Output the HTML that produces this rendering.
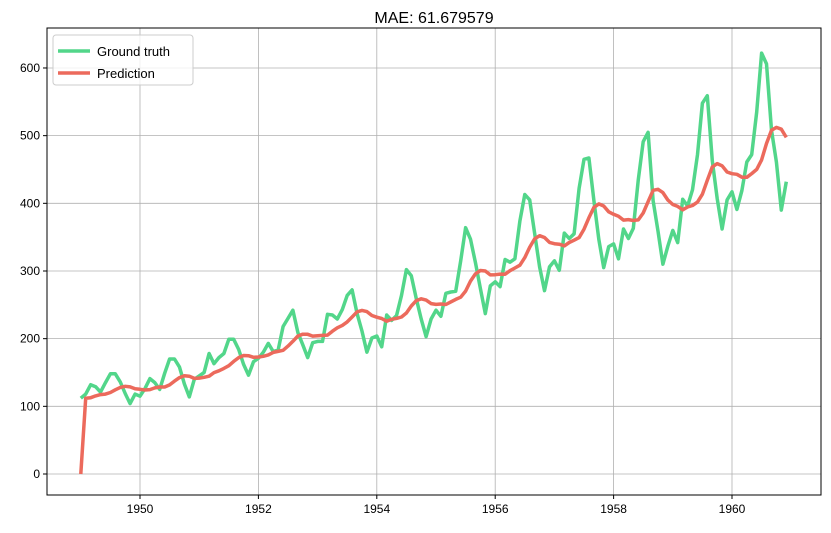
<!DOCTYPE html>
<html><head><meta charset="utf-8"><style>
body{margin:0;background:#fff;font-family:"Liberation Sans",sans-serif}
svg text{font-family:"Liberation Sans",sans-serif}
</style></head><body>
<svg id="s" width="831" height="528" xmlns="http://www.w3.org/2000/svg">
<rect width="831" height="528" fill="#fff"/>
<g id="grid"></g>
<polyline id="gt" fill="none" stroke="#52d68a" stroke-width="3.5" stroke-linejoin="round"/>
<polyline id="pr" fill="none" stroke="#ec6a5c" stroke-width="3.5" stroke-linejoin="round"/>
<rect x="47" y="28" width="774" height="467" fill="none" stroke="#000" stroke-width="1"/>
<g id="ticks" font-size="12"></g>
<text x="434" y="23" font-size="16" text-anchor="middle">MAE: 61.679579</text>
<rect x="53" y="35" width="140" height="50" rx="3" fill="#fff" fill-opacity="0.8" stroke="#ccc"/>
<line x1="58" y1="51" x2="90" y2="51" stroke="#52d68a" stroke-width="3.5"/>
<text x="97" y="56" font-size="13">Ground truth</text>
<line x1="58" y1="73" x2="90" y2="73" stroke="#ec6a5c" stroke-width="3.5"/>
<text x="97" y="78" font-size="13">Prediction</text>
</svg>
<script>
var d=[112,118,132,129,121,135,148,148,136,119,104,118,115,126,141,135,125,149,170,170,158,133,114,140,145,150,178,163,172,178,199,199,184,162,146,166,171,180,193,181,183,218,230,242,209,191,172,194,196,196,236,235,229,243,264,272,237,211,180,201,204,188,235,227,234,264,302,293,259,229,203,229,242,233,267,269,270,315,364,347,312,274,237,278,284,277,317,313,318,374,413,405,355,306,271,306,315,301,356,348,355,422,465,467,404,347,305,336,340,318,362,348,363,435,491,505,404,359,310,337,360,342,406,396,420,472,548,559,463,407,362,405,417,391,419,461,472,535,622,606,508,461,390,432];
function X(t){return 140+(t-1950)*59.2}function Y(v){return 474-v*0.6767}
var pr=[0],l=d[0],b=0,A=0.13,B=0.035;
for(var i=1;i<d.length;i++){var f=l+b;pr.push(f);var nl=A*d[i]+(1-A)*(l+b);b=B*(nl-l)+(1-B)*b;l=nl;}
var g='',p='';
for(var i=0;i<d.length;i++){var t=1949+i/12;g+=X(t).toFixed(1)+','+Y(d[i]).toFixed(1)+' ';p+=X(t).toFixed(1)+','+Y(pr[i]).toFixed(1)+' ';}
document.getElementById('gt').setAttribute('points',g);
document.getElementById('pr').setAttribute('points',p);
var gr='',tk='';
for(var y=1950;y<=1960;y+=2){var x=X(y);gr+='<line x1="'+x+'" y1="28" x2="'+x+'" y2="495" stroke="#b0b0b0" stroke-width="0.8"/>';tk+='<line x1="'+x+'" y1="495" x2="'+x+'" y2="499" stroke="#000"/><text x="'+x+'" y="513" text-anchor="middle">'+y+'</text>';}
for(var v=0;v<=600;v+=100){var yy=Y(v);gr+='<line x1="47" y1="'+yy+'" x2="821" y2="'+yy+'" stroke="#b0b0b0" stroke-width="0.8"/>';tk+='<line x1="43" y1="'+yy+'" x2="47" y2="'+yy+'" stroke="#000"/><text x="40" y="'+(yy+4)+'" text-anchor="end">'+v+'</text>';}
document.getElementById('grid').innerHTML=gr;document.getElementById('ticks').innerHTML=tk;
</script>
</body></html>
